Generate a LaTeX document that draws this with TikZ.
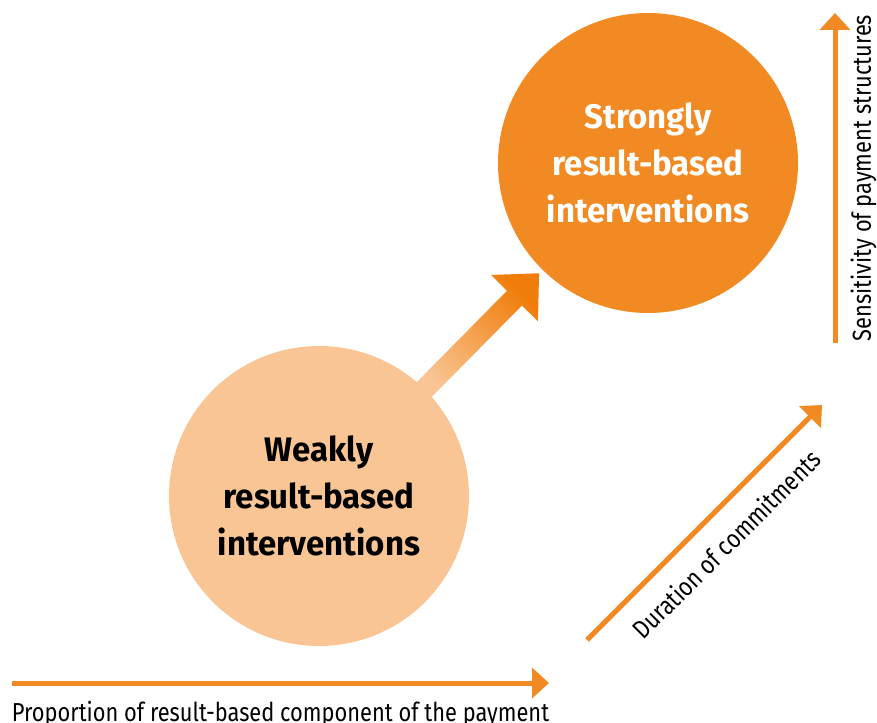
\documentclass[tikz,border=0pt]{standalone}
\usepackage{fontspec}
\setmainfont{Fira Sans}
\newfontfamily\axisfont{Fira Sans}[FakeStretch=0.84]
\newfontfamily\blobfont{Fira Sans}[FakeStretch=0.97]
\usetikzlibrary{calc,arrows.meta}
\definecolor{orangeStrong}{HTML}{F28A24}
\definecolor{orangeWeak}{HTML}{F9C594}
\definecolor{orangeDeep}{HTML}{F07D0A}
\tikzset{
  axis/.style={line width=5pt, color=orangeStrong, -{Triangle[length=17pt,width=30pt]}},
  blob/.style={circle, minimum size=300pt, inner sep=0pt, align=center,
    font=\blobfont\bfseries\fontsize{34}{47}\selectfont},
  axislabel/.style={inner sep=0pt, text=black, font=\axisfont\fontsize{26}{30}\selectfont}
}
\begin{document}
\begin{tikzpicture}[x=1pt,y=-1pt]
		%%%%% START %%%%%
		\useasboundingbox (0,0) rectangle (877,722);
		
		\node[blob, fill=orangeStrong, text=white] (strong) at (648,163) {Strongly\\result-based\\interventions};
		\node[blob, fill=orangeWeak, text=black] (weak) at (319,496) {Weakly\\result-based\\interventions};
		
		% gradient arrow between the two circles
		\coordinate (tail) at ($(weak.center)!145pt!(strong.center)$);
		\coordinate (tip) at ($(strong.center)!155pt!(weak.center)$);
		\coordinate (neck) at ($(tip)!35pt!(tail)$);
		\shade[bottom color=orangeWeak, top color=orangeDeep, shading angle=-45]
			($(tail)!10.5pt!90:(tip)$) -- ($(neck)!10.5pt!-90:(tail)$) -- ($(neck)!33pt!-90:(tail)$)
			-- (tip) -- ($(neck)!33pt!90:(tail)$) -- ($(neck)!10.5pt!90:(tail)$)
			-- ($(tail)!10.5pt!-90:(tip)$) -- cycle;
		
		% axes
		\coordinate (hstart) at (12,683);
		\coordinate (hend) at (549,683);
		\draw[axis] (hstart) -- node[axislabel, below=16pt] (hlabel) {Proportion of result-based component of the payment} (hend);
		
		\coordinate (dstart) at (587,640);
		\coordinate (dend) at (822,405);
		\draw[axis] (dstart) -- node[axislabel, sloped, below=18pt] (dlabel) {Duration of commitments} (dend);
		
		\coordinate (vstart) at (835,343);
		\coordinate (vend) at (835,13);
		\draw[axis] (vstart) -- node[axislabel, sloped, below=13pt] (vlabel) {Sensitivity of payment structures} (vend);
		
		%%%%% END %%%%%
\end{tikzpicture}
\end{document}
